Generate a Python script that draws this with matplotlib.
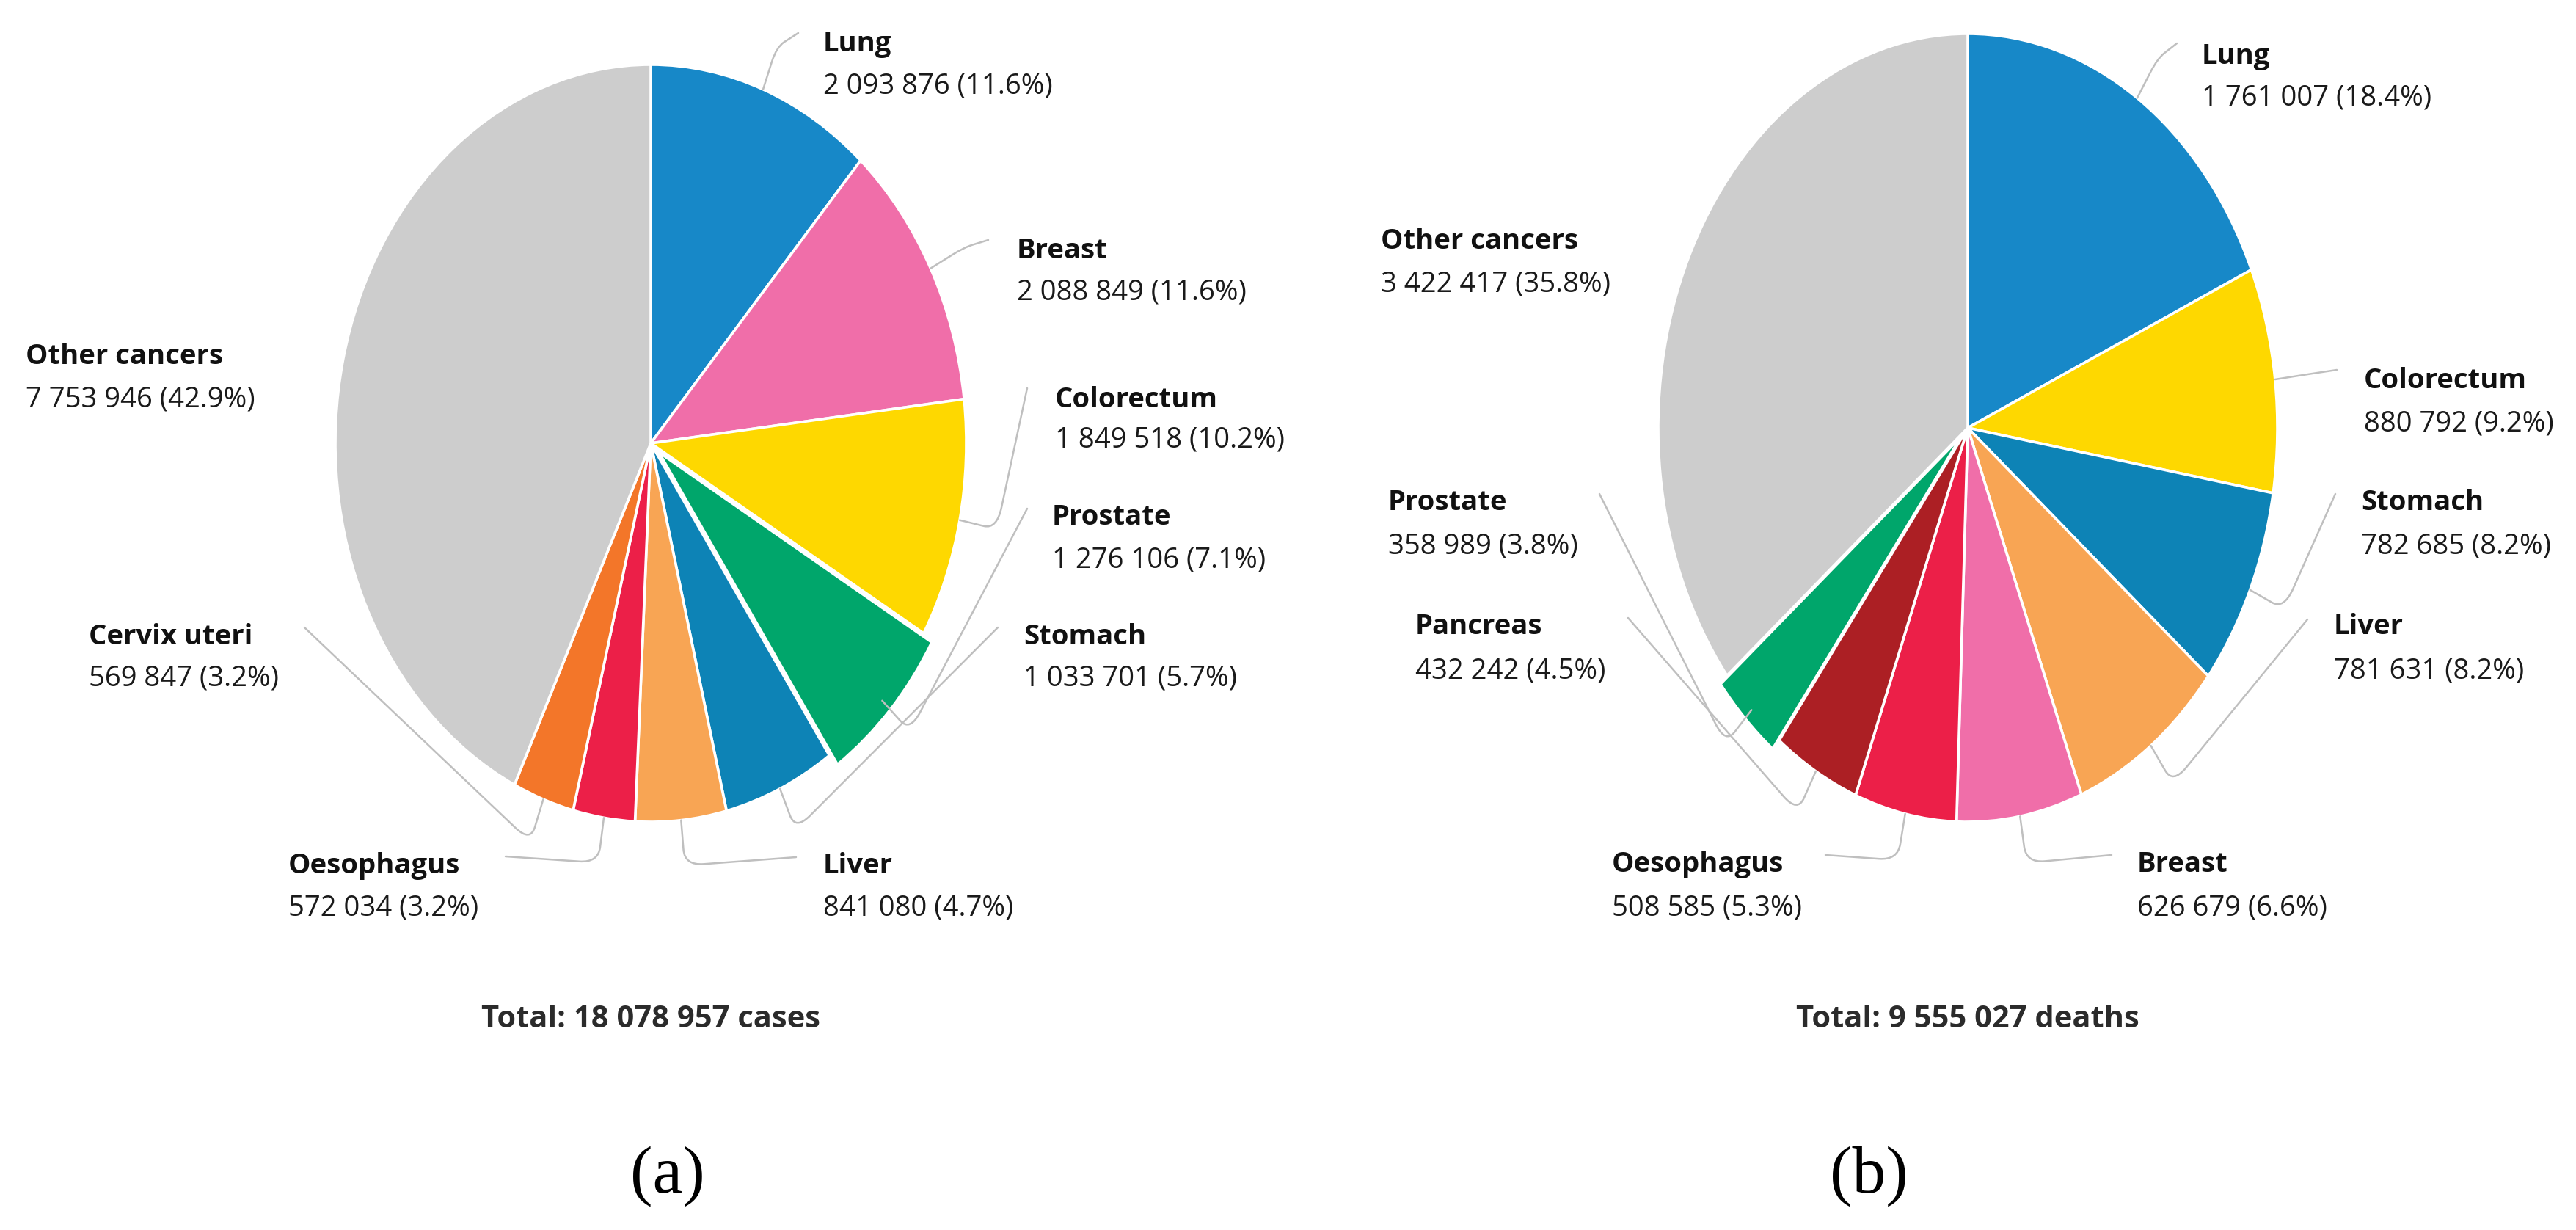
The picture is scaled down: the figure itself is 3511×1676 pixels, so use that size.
import matplotlib
matplotlib.use("Agg")
import matplotlib.pyplot as plt
from matplotlib.path import Path
from matplotlib.patches import PathPatch
import numpy as np

W, H, DPI = 3512, 1676, 100

# ---------------- data ----------------
# (a) estimated new cases
cases_labels = ["Lung", "Breast", "Colorectum", "Prostate", "Stomach",
                "Liver", "Oesophagus", "Cervix uteri", "Other cancers"]
cases_values = [2093876, 2088849, 1849518, 1276106, 1033701,
                841080, 572034, 569847, 7753946]
cases_unit = "cases"

# (b) estimated deaths
deaths_labels = ["Lung", "Colorectum", "Stomach", "Liver", "Breast",
                 "Oesophagus", "Pancreas", "Prostate", "Other cancers"]
deaths_values = [1761007, 880792, 782685, 781631, 626679,
                 508585, 432242, 358989, 3422417]
deaths_unit = "deaths"

panel_tags = ["(a)", "(b)"]

# ---------------- styles ----------------
COLORS = {
    "Lung": "#1788C8", "Breast": "#F06EA9", "Colorectum": "#FED800",
    "Prostate": "#00A66B", "Stomach": "#0D83B6", "Liver": "#F8A554",
    "Oesophagus": "#EC1F48", "Cervix uteri": "#F37629",
    "Pancreas": "#AC1F24", "Other cancers": "#CDCDCD",
}
EXPLODED = {"Prostate"}

# layout (pixels, y from top): pie centre and radii
pie_layout_a = dict(cx=887, cy=604, rx=430, ry=516, explode=0.035)
pie_layout_b = dict(cx=2682, cy=583, rx=422, ry=537, explode=0.03)

# label layout: name -> (text_left_x, name_centre_y, value_centre_y, anchor_x, anchor_y)
lab_layout_a = {
    "Lung": (1122, 56, 114, 1088, 45),
    "Breast": (1386, 338, 395, 1347, 327),
    "Colorectum": (1438, 541, 596, 1400, 529),
    "Prostate": (1434, 701, 760, 1400, 693),
    "Stomach": (1395, 864, 921, 1360, 855),
    "Liver": (1122, 1176, 1234, 1085, 1168),
    "Oesophagus": (393, 1176, 1234, 689, 1167),
    "Cervix uteri": (121, 864, 921, 415, 855),
    "Other cancers": (35, 482, 541, None, None),
}
lab_layout_b = {
    "Lung": (3001, 73, 130, 2967, 59),
    "Colorectum": (3222, 515, 574, 3185, 504),
    "Stomach": (3218, 681, 741, 3183, 673),
    "Liver": (3181, 850, 911, 3145, 844),
    "Breast": (2913, 1174, 1234, 2878, 1165),
    "Oesophagus": (2197, 1174, 1234, 2488, 1165),
    "Pancreas": (1929, 850, 911, 2219, 842),
    "Prostate": (1892, 681, 741, 2180, 673),
    "Other cancers": (1882, 325, 384, None, None),
}
total_y = [1390, 1390]
tag_xy = [(910, 1603), (2547, 1603)]

LABEL_FS = 27.5
TOTAL_FS = 30
TAG_FS = 66
SANS = ["Open Sans", "DejaVu Sans"]
LEADER_C = "#BFBFBF"

fig = plt.figure(figsize=(W / DPI, H / DPI), dpi=DPI)
fig.patch.set_facecolor("white")


def fx(x):
    return x / W


def fy(y):
    return 1 - y / H


def fmt(v):
    return f"{v:,}".replace(",", " ")


def draw_panel(labels, values, unit, pl, ll, ty, tag, txy):
    k = 1.6
    cx, cy, rx, ry = pl["cx"], pl["cy"], pl["rx"], pl["ry"]
    ax = fig.add_axes([fx(cx - k * rx), (H - cy - k * ry) / H,
                       2 * k * rx / W, 2 * k * ry / H])
    explode = [pl["explode"] if l in EXPLODED else 0 for l in labels]
    wedges, _ = ax.pie(values, colors=[COLORS[l] for l in labels],
                       startangle=90, counterclock=False, explode=explode,
                       radius=1.0,
                       wedgeprops=dict(edgecolor="white", linewidth=2.6))
    ax.set_aspect("auto")
    ax.set_xlim(-k, k)
    ax.set_ylim(-k, k)
    ax.axis("off")

    total = sum(values)
    inv = ax.transData.inverted()
    em = LABEL_FS * DPI / 72.0
    for lab, val, w in zip(labels, values, wedges):
        x0, ny, vy, axp, ayp = ll[lab]
        fig.text(fx(x0), fy(ny + 0.357 * em), lab, family=SANS,
                 fontweight="bold", fontsize=LABEL_FS, color="#111111",
                 ha="left", va="baseline")
        fig.text(fx(x0), fy(vy + 0.357 * em),
                 f"{fmt(val)} ({val / total * 100:.1f}%)", family=SANS,
                 fontsize=LABEL_FS, color="#1a1a1a", ha="left", va="baseline")
        if axp is None:
            continue
        th = np.deg2rad((w.theta1 + w.theta2) / 2.0)
        edge = np.array([np.cos(th), np.sin(th)])
        elbow = edge * 1.12
        anc = np.array(inv.transform((axp, H - ayp)))
        # rounded corner at the elbow
        t = 0.35
        p1 = elbow + (anc - elbow) * min(t, 0.06 / max(np.linalg.norm(anc - elbow), 1e-6))
        p2 = elbow + (edge - elbow) * t
        verts = [anc, p1, elbow, p2, edge]
        codes = [Path.MOVETO, Path.LINETO, Path.CURVE3, Path.CURVE3, Path.LINETO]
        ax.add_patch(PathPatch(Path(verts, codes), facecolor="none",
                               edgecolor=LEADER_C, lw=1.8, clip_on=False,
                               zorder=5, capstyle="round", joinstyle="round"))

    fig.text(fx(cx), fy(ty), f"Total: {fmt(total)} {unit}", family=SANS,
             fontweight="bold", fontsize=TOTAL_FS, color="#2b2b2b",
             ha="center", va="center")
    fig.text(fx(txy[0]), fy(txy[1]), tag,
             family=["Liberation Serif", "DejaVu Serif"],
             fontsize=TAG_FS, color="black", ha="center", va="center")


draw_panel(cases_labels, cases_values, cases_unit, pie_layout_a,
           lab_layout_a, total_y[0], panel_tags[0], tag_xy[0])
draw_panel(deaths_labels, deaths_values, deaths_unit, pie_layout_b,
           lab_layout_b, total_y[1], panel_tags[1], tag_xy[1])

fig.savefig("out.png", dpi=DPI, facecolor="white")
